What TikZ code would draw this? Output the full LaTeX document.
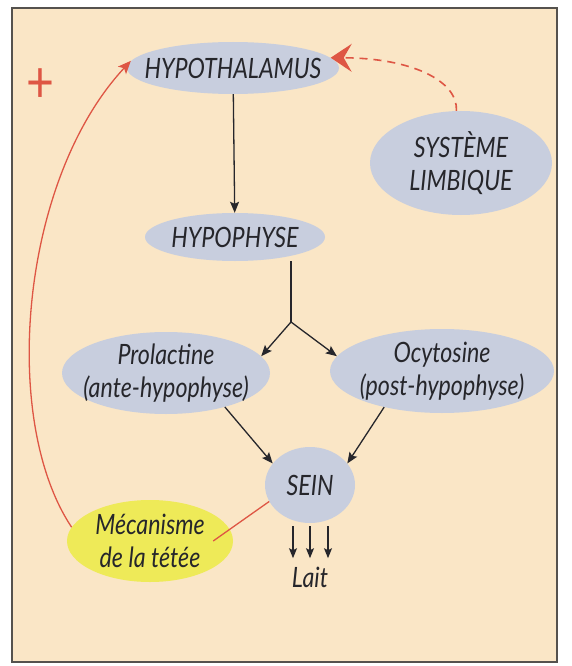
\documentclass[tikz,border=0pt]{standalone}
\usepackage{fontspec}
\setmainfont{Lato}[FakeStretch=0.83]
\usepackage{tikz}
\usetikzlibrary{arrows.meta, shapes.geometric}
\definecolor{lpeach}{HTML}{FAE6C6}
\definecolor{lblue}{HTML}{C8CEDE}
\definecolor{lyellow}{HTML}{EEEA58}
\definecolor{lred}{HTML}{DE5644}
\definecolor{lframe}{HTML}{55524E}
\definecolor{ltext}{HTML}{26262B}

\tikzset{
  organ/.style={ellipse, fill=lblue, inner sep=-15pt, align=center, text=ltext,
    font=\fontsize{28}{33}\selectfont\itshape},
  blackarrow/.style={-{Stealth[length=11pt,width=9pt,inset=2pt]}, line width=1.3pt, ltext},
  redarrow/.style={-{Stealth[length=13pt,width=11pt,inset=3pt]}, line width=1.3pt, lred},
}

\begin{document}
\begin{tikzpicture}[x=1pt, y=-1pt]
  \useasboundingbox (0,0) rectangle (571,666);

  %% Frame
  \fill[lpeach] (12,8) rectangle (557,662);
  \draw[lframe, line width=1.2pt] (12,8) rectangle (557,662);

  %% Organs
  \node[organ, minimum width=212pt, minimum height=52pt] (hypoth) at (233,68) {HYPOTHALAMUS};
  \node[organ, minimum width=182pt, minimum height=104pt] (limb) at (461,163) {SYSTÈME\\LIMBIQUE};
  \node[organ, minimum width=180pt, minimum height=48pt] (hypo) at (235,237) {HYPOPHYSE};
  \node[organ, minimum width=208pt, minimum height=82pt] (prol) at (166,373) {Prolactine\\(ante-hypophyse)};
  \node[organ, minimum width=224pt, minimum height=84pt] (ocy) at (442,371) {Ocytosine\\(post-hypophyse)};
  \node[organ, minimum width=90pt, minimum height=76pt] (sein) at (310,485) {SEIN};
  \node[organ, fill=lyellow, minimum width=166pt, minimum height=82pt] (mec) at (150,541)
    {Mécanisme\\de la tétée};

  %% Hypothalamus -> hypophyse, then split
  \draw[blackarrow] (hypoth) -- (hypo);
  \coordinate (split) at (291,322);
  \draw[line width=1.3pt, ltext] (split |- hypo.south) -- (split);
  \draw[blackarrow] (split) -- (prol.10);
  \draw[blackarrow] (split) -- (ocy.172);
  \draw[blackarrow] (prol.-30) -- (sein.150);
  \draw[blackarrow] (ocy.-148) -- (sein.30);

  %% Milk
  \foreach \x in {-17, 0, 18} {
    \draw[-{Stealth[length=10pt,width=8pt,inset=2pt]}, line width=1.3pt, ltext]
      ([xshift=\x pt, yshift=-3pt]sein.south) -- ++(0,32);
  }
  \node[font=\fontsize{28}{33}\selectfont\itshape, text=ltext] (lait) at (310,577) {Lait};

  %% Feedback loops
  \draw[lred, line width=1.3pt] ([xshift=-20pt]mec.east) -- (sein.-158);
  \draw[redarrow] (mec.170) .. controls (0,420) and (20,180) .. (hypoth.176);
  \draw[lred, line width=1.6pt, dash pattern=on 8pt off 6pt,
    -{Stealth[length=21pt,width=28pt,inset=8pt]}]
    (limb.95) .. controls (458,80) and (410,58) .. (hypoth.6);
  \node[font=\fontsize{58}{58}\selectfont, text=lred] (plus) at (40,86) {+};

\end{tikzpicture}
\end{document}
